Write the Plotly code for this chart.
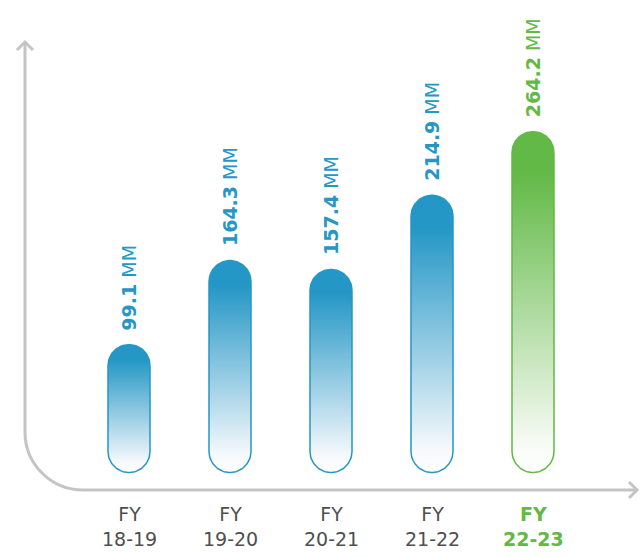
import numpy as np
import plotly.graph_objects as go

# ---- data ----
categories_top = ["FY", "FY", "FY", "FY", "FY"]
categories_bottom = ["18-19", "19-20", "20-21", "21-22", "22-23"]
values = [99.1, 164.3, 157.4, 214.9, 264.2]
value_labels = ["99.1", "164.3", "157.4", "214.9", "264.2"]
unit = "MM"
highlight = [False, False, False, False, True]

BLUE = "#2597c6"
GREEN = "#62b946"
GRAY_TXT = "#4f4f4f"
AXIS = "#c4c4c6"
FONT = "DejaVu Sans"

W, H = 640, 557
px_per_x = 101.0
px_per_y = 1.29
x0 = -129 / px_per_x
x1 = x0 + W / px_per_x
zero_px = 472.5
y0 = -(H - zero_px) / px_per_y
y1 = y0 + H / px_per_y

bar_half_px = 21.0
hw = bar_half_px / px_per_x
ry = bar_half_px / px_per_y

fig = go.Figure()

for i, (v, hl) in enumerate(zip(values, highlight)):
    col = GREEN if hl else BLUE
    t_top = np.linspace(0, np.pi, 40)
    t_bot = np.linspace(np.pi, 2 * np.pi, 40)
    xs = np.concatenate([i + hw * np.cos(t_top), i + hw * np.cos(t_bot)])
    ys = np.concatenate([(v - ry) + ry * np.sin(t_top), ry + ry * np.sin(t_bot)])
    xs = np.append(xs, xs[0])
    ys = np.append(ys, ys[0])
    fig.add_trace(go.Scatter(
        x=xs, y=ys, mode="lines", fill="toself",
        line=dict(color=col, width=1.5),
        fillgradient=dict(type="vertical",
                          colorscale=[[0, "#ffffff"], [0.08, "#f6f9fc" if not hl else "#f7fbf5"],
                                      [0.88, col], [1, col]]),
        hoverinfo="skip", showlegend=False,
    ))
    fig.add_annotation(
        x=i, y=v, xref="x", yref="y", yshift=12,
        text=f"<b>{value_labels[i]}</b> {unit}", textangle=-90,
        showarrow=False, xanchor="center", yanchor="bottom",
        font=dict(family=FONT, size=19, color=col),
    )
    txtcol = GREEN if hl else GRAY_TXT
    lbl = f"{categories_top[i]}<br>{categories_bottom[i]}"
    if hl:
        lbl = f"<b>{categories_top[i]}</b><br><b>{categories_bottom[i]}</b>"
    fig.add_annotation(
        x=i, y=1 - 501 / H, xref="x", yref="paper",
        text=lbl, showarrow=False, xanchor="center", yanchor="top",
        font=dict(family=FONT, size=19, color=txtcol),
    )

# ---- axis decoration (pixel -> paper) ----
def P(x, y):
    return f"{x / W:.5f},{1 - y / H:.5f}"

r = 58
k = 0.5523 * r
ax_path = (f"M {P(25, 42)} L {P(25, 490 - r)} "
           f"C {P(25, 490 - r + k)} {P(25 + r - k, 490)} {P(25 + r, 490)} "
           f"L {P(637, 490)}")
fig.add_shape(type="path", path=ax_path, xref="paper", yref="paper",
              line=dict(color=AXIS, width=3))
fig.add_shape(type="path", path=f"M {P(17, 50)} L {P(25, 42)} L {P(33, 50)}",
              xref="paper", yref="paper", line=dict(color=AXIS, width=3))
fig.add_shape(type="path", path=f"M {P(629, 482)} L {P(637, 490)} L {P(629, 498)}",
              xref="paper", yref="paper", line=dict(color=AXIS, width=3))

fig.update_layout(
    width=W, height=H, margin=dict(l=0, r=0, t=0, b=0),
    paper_bgcolor="white", plot_bgcolor="white",
    xaxis=dict(range=[x0, x1], visible=False, fixedrange=True),
    yaxis=dict(range=[y0, y1], visible=False, fixedrange=True),
    showlegend=False,
)

fig.write_html(
    "out.html",
    config={"displayModeBar": False},
    post_script="document.body.style.margin='0';document.body.style.padding='0';"
                "document.documentElement.style.overflow='hidden';",
)
